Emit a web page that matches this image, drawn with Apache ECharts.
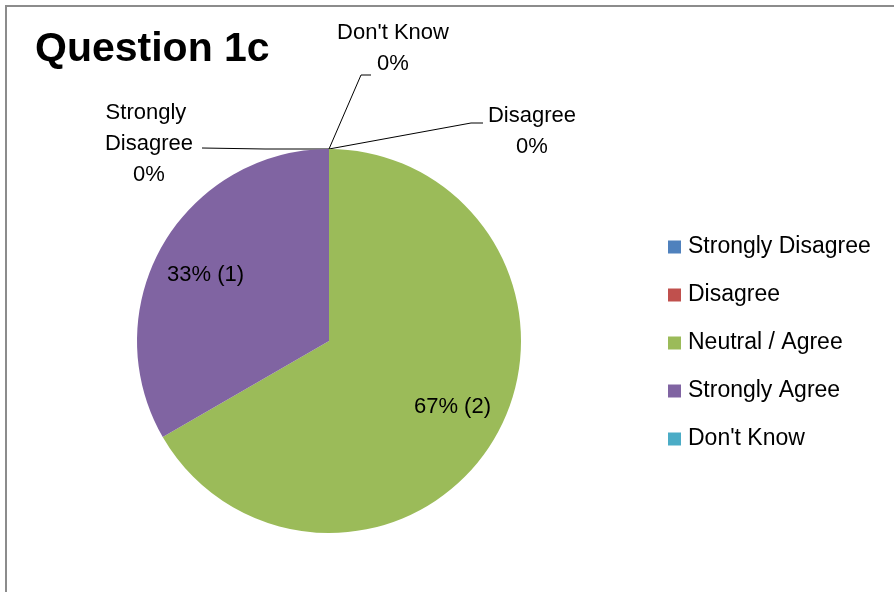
<!DOCTYPE html>
<html><head><meta charset="utf-8">
<script src="https://cdn.jsdelivr.net/npm/echarts@6.0.0/dist/echarts.min.js"></script>
<style>html,body{margin:0;padding:0;background:#fff}#c{width:894px;height:592px}</style>
</head><body><div id="c"></div>
<script>
// ---- data ----
const titleText = 'Question 1c';
const categories = ['Strongly Disagree', 'Disagree', 'Neutral / Agree', 'Strongly Agree', "Don't Know"];
const counts = [0, 0, 2, 1, 0];
const colors = ['#4F81BD', '#C0504D', '#9BBB59', '#8064A2', '#4BACC6'];

// ---- layout ----
const CX = 329, CY = 341, R = 192;
const FONT = '"Liberation Sans", Arial, sans-serif';
// placement of the zero-value labels and their leader lines, relative to the top of the pie
const zeroLabelLayout = {
  'Strongly Disagree': { label: [-180, -5], line: [[-64, 0], [-127, -1]] },
  'Disagree': { label: [203, -18], line: [[142, -26], [154, -26]] },
  "Don't Know": { label: [64, -101], line: [[32, -74], [42, -74]] }
};

const pieData = categories.map(function (name, i) {
  const item = { name: name, value: counts[i], itemStyle: { color: colors[i] } };
  if (counts[i] === 0) {
    item.label = { position: 'outside', formatter: '{b}\n{d}%', width: 120, overflow: 'break', lineHeight: 31, align: 'center' };
    item.labelLine = { show: true };
  } else {
    item.label = { position: 'inside', formatter: '{d}% ({c})' };
    item.labelLine = { show: false };
  }
  return item;
});

const chart = echarts.init(document.getElementById('c'), null, { renderer: 'canvas' });
chart.setOption({
  animation: false,
  backgroundColor: '#fff',
  title: {
    text: titleText, left: 35, top: 29, padding: 0,
    textStyle: { fontFamily: FONT, fontSize: 41, fontWeight: 'bold', color: '#000', lineHeight: 41 }
  },
  legend: {
    orient: 'vertical', left: 668, top: 234, padding: 0,
    itemWidth: 13, itemHeight: 13, itemGap: 22, icon: 'rect',
    selectedMode: false,
    data: categories,
    textStyle: { fontFamily: FONT, fontSize: 23, color: '#000', lineHeight: 26, padding: [0, 0, 0, 2] }
  },
  graphic: [{
    type: 'rect', silent: true, z: -10,
    shape: { x: 6, y: 6, width: 1200, height: 1200 },
    style: { fill: 'none', stroke: '#8c8c8c', lineWidth: 2 }
  }],
  series: [{
    type: 'pie',
    center: [CX, CY],
    radius: R,
    startAngle: 90,
    clockwise: true,
    avoidLabelOverlap: false,
    percentPrecision: 0,
    itemStyle: { borderWidth: 0 },
    emphasis: { disabled: true },
    label: { fontFamily: FONT, fontSize: 22, color: '#000', textBorderWidth: 0 },
    labelLine: { lineStyle: { color: '#000', width: 1 } },
    labelLayout: function (p) {
      const ax = CX, ay = CY - R;
      if (counts[p.dataIndex] === 0) {
        const z = zeroLabelLayout[categories[p.dataIndex]];
        return {
          x: ax + z.label[0], y: ay + z.label[1], align: 'center', verticalAlign: 'middle',
          labelLinePoints: [[ax, ay], [ax + z.line[0][0], ay + z.line[0][1]], [ax + z.line[1][0], ay + z.line[1][1]]]
        };
      }
      const lx = p.labelRect.x + p.labelRect.width / 2;
      const ly = p.labelRect.y + p.labelRect.height / 2;
      return { x: CX + (lx - CX) * 1.44, y: CY + (ly - CY) * 1.33, align: 'center', verticalAlign: 'middle' };
    },
    data: pieData
  }]
});
</script>
</body></html>
